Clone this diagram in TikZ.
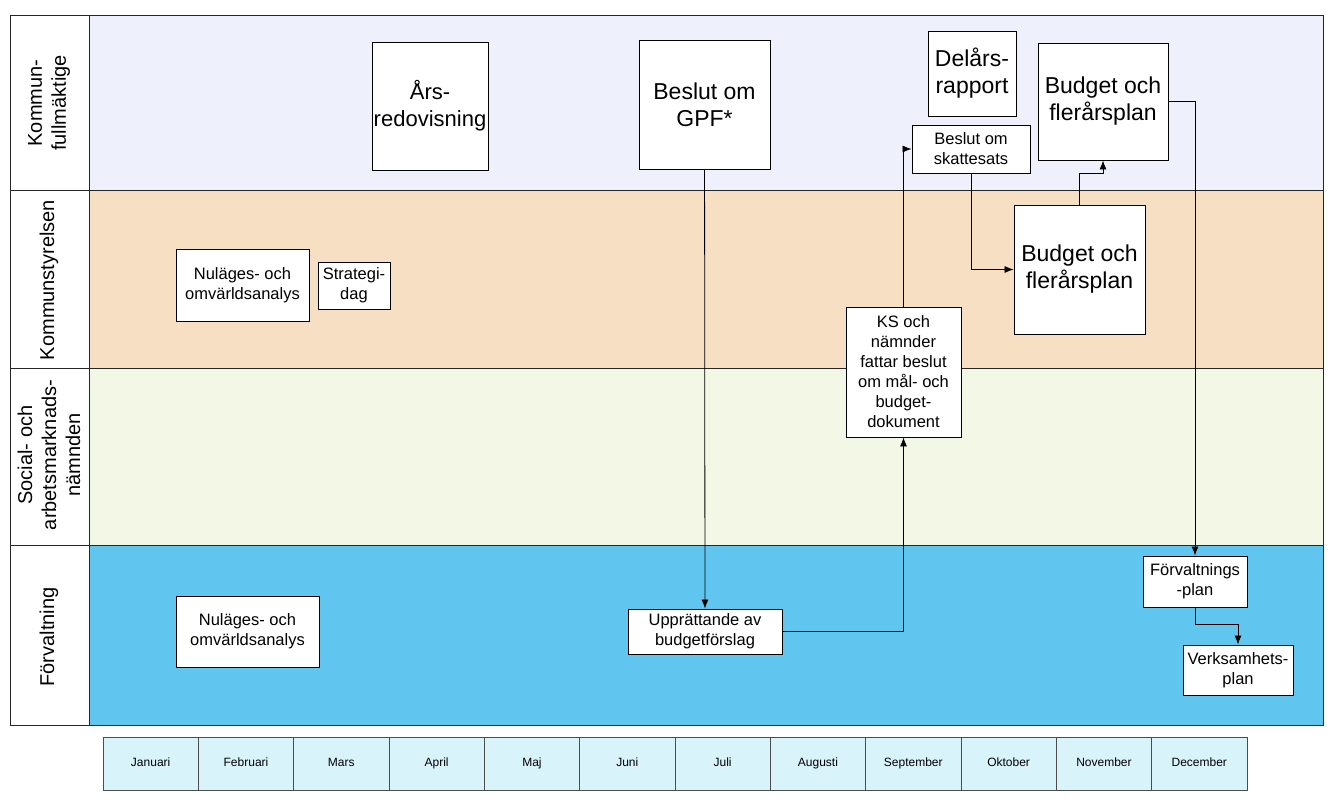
\documentclass[tikz,border=0pt]{standalone}
\usepackage{fontspec}
\setmainfont{Liberation Sans}
\usetikzlibrary{arrows.meta}
\definecolor{kfblue}{RGB}{238,241,251}
\definecolor{kspeach}{RGB}{246,223,195}
\definecolor{nmgreen}{RGB}{242,248,229}
\definecolor{fvblue}{RGB}{96,198,240}
\definecolor{monthcyan}{RGB}{216,243,250}

\begin{document}
\begin{tikzpicture}[x=1pt, y=-1pt,
    lane/.style={draw=black!85, line width=0.9pt},
    lanelabel/.style={rotate=90, align=center, font=\fontsize{20}{24}\selectfont},
    bigbox/.style={draw, fill=white, line width=0.9pt, align=center,
                   inner sep=1pt, font=\fontsize{23}{27}\selectfont},
    smallbox/.style={draw, fill=white, line width=0.9pt, align=center,
                     inner sep=1pt, font=\fontsize{16.5}{20}\selectfont},
    month/.style={draw=black!70, fill=monthcyan, line width=0.8pt,
                  minimum width=95.33pt, minimum height=53pt, inner sep=0pt,
                  text height=9pt, text depth=3pt,
                  font=\fontsize{12}{14}\selectfont},
    flow/.style={-{Latex[length=9pt,width=7pt]}, line width=0.8pt},
]
\useasboundingbox (0,0) rectangle (1331,806);

% lanes
\fill[kfblue]  (89,15)  rectangle (1323,190);
\fill[kspeach] (89,190) rectangle (1323,368);
\fill[nmgreen] (89,368) rectangle (1323,545);
\fill[fvblue]  (89,545) rectangle (1323,725);
\draw[lane] (10,15) rectangle (1323,725);
\draw[lane] (89,15) -- (89,725);
\foreach \y in {190,368,545}
  \draw[lane] (10,\y) -- (1323,\y);

\node[lanelabel] (kflab) at (49,103) {Kommun-\\fullmäktige};
\node[lanelabel] (kslab) at (49,280) {Kommunstyrelsen};
\node[lanelabel] (nmlab) at (49,455) {Social- och\\arbetsmarknads-\\nämnden};
\node[lanelabel] (fvlab) at (49,637) {Förvaltning};

% Kommunfullmäktige
\node[bigbox, font=\fontsize{22}{27}\selectfont, inner sep=0pt, minimum width=116pt, minimum height=128pt] (ars) at (430,106) {Års-\\redovisning};
\node[bigbox, minimum width=131pt, minimum height=129pt] (gpf) at (704.5,104.5) {Beslut om\\GPF*};
\node[bigbox, minimum width=88pt, minimum height=85pt] (delars) at (972,73.5) {Delårs-\\rapport};
\node[smallbox, minimum width=118pt, minimum height=48pt] (skatt) at (971,149) {Beslut om\\skattesats};
\node[bigbox, minimum width=130pt, minimum height=117pt] (budkf) at (1103,101.5) {Budget och\\flerårsplan};

% Kommunstyrelsen
\node[smallbox, minimum width=133pt, minimum height=72pt] (nulks) at (242.5,285) {Nuläges- och\\omvärldsanalys};
\node[smallbox, minimum width=72pt, minimum height=47pt] (strat) at (354,285.5) {Strategi-\\dag};
\node[bigbox, minimum width=131pt, minimum height=129pt] (budks) at (1079.5,269.5) {Budget och\\flerårsplan};
\node[smallbox, minimum width=115pt, minimum height=130pt] (ksn) at (903.5,372) {KS och\\nämnder\\fattar beslut\\om mål- och\\budget-\\dokument};

% Förvaltning
\node[smallbox, minimum width=143pt, minimum height=71pt] (nulfv) at (247.5,631.5) {Nuläges- och\\omvärldsanalys};
\node[smallbox, minimum width=154pt, minimum height=45pt] (uppr) at (705,631.5) {Upprättande av\\budgetförslag};
\node[smallbox, minimum width=104pt, minimum height=51pt] (fplan) at (1195,581.5) {Förvaltnings\\-plan};
\node[smallbox, minimum width=110pt, minimum height=50pt] (vplan) at (1238,670) {Verksamhets-\\plan};

% flow
\draw[flow] (gpf) -- (uppr);
\draw[flow] (uppr.east) -| (ksn.south);
\draw[flow] (ksn.north) |- (skatt.west);
\draw[flow] (skatt.south) |- (budks.west);
\draw[flow] (budks.north) -- ++(0,-31) -| (budkf.south);
\draw[flow] (budkf.east) -| (fplan.north);
\draw[flow] (fplan.south) -- ++(0,17) -| (vplan.north);

% months
\foreach \m [count=\i] in {Januari,Februari,Mars,April,Maj,Juni,Juli,Augusti,September,Oktober,November,December}
  \node[month] (m\i) at ({103+95.33*(\i-0.5)},763.5) {\m};
\end{tikzpicture}
\end{document}
